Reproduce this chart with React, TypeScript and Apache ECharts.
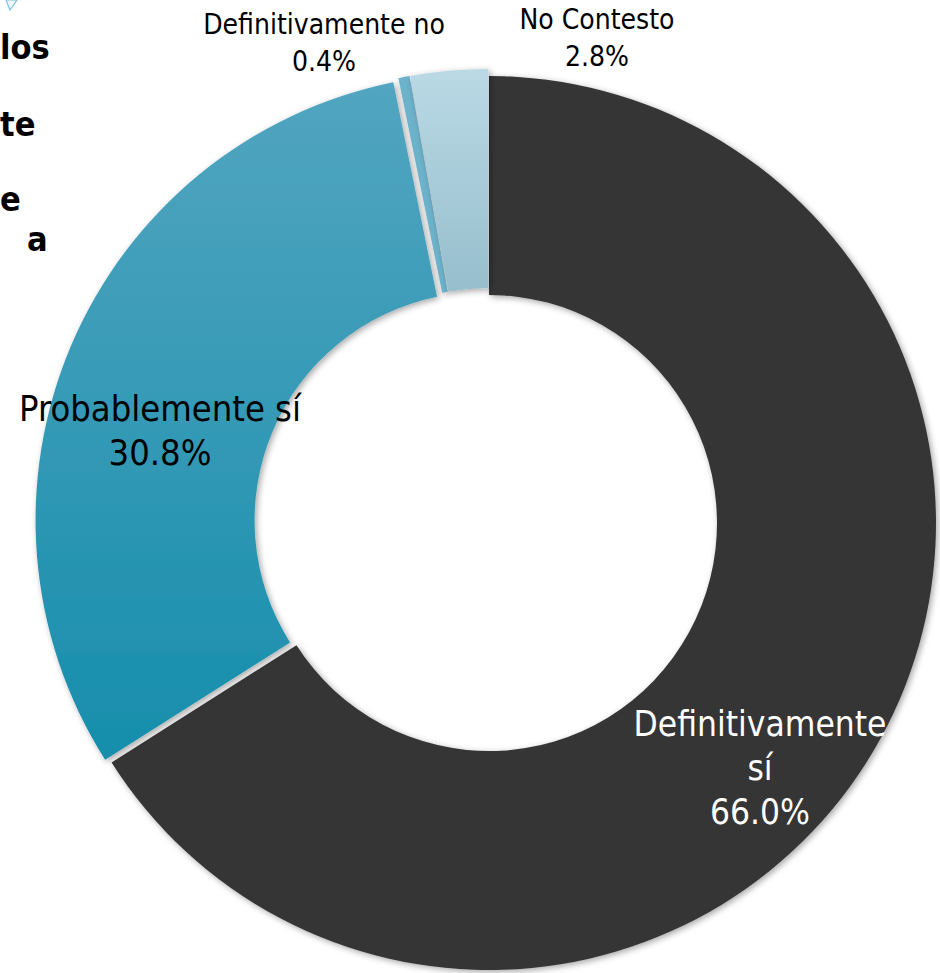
import React, { useEffect, useRef } from "react";
import * as echarts from "echarts";

const categories = ["Definitivamente sí", "Probablemente sí", "Definitivamente no", "No Contesto"];
const values = [66.0, 30.8, 0.4, 2.8];
const labelTexts = ["Definitivamente\nsí\n66.0%", "Probablemente sí\n30.8%", "Definitivamente no\n0.4%", "No Contesto\n2.8%"];
const sideTexts = ["los", "te", "e", "a"];

const FONT = "'DejaVu Sans Condensed', 'DejaVu Sans', sans-serif";

export default function App() {
  const ref = useRef<HTMLDivElement>(null);
  useEffect(() => {
    document.body.style.margin = "0";
    const chart = echarts.init(ref.current!, null, { renderer: "svg" });
    const colors = [
      "#363636",
      new echarts.graphic.LinearGradient(0, 0, 0, 1, [
        { offset: 0, color: "#52a5c0" },
        { offset: 1, color: "#168eac" },
      ]),
      "#6cb2ca",
      new echarts.graphic.LinearGradient(0, 0, 0, 1, [
        { offset: 0, color: "#bad9e5" },
        { offset: 1, color: "#96becd" },
      ]),
    ];
    const labelStyles = [
      { color: "#ffffff", fontSize: 35, lineHeight: 44 },
      { color: "#000000", fontSize: 36, lineHeight: 44 },
      { color: "#000000", fontSize: 28, lineHeight: 37 },
      { color: "#000000", fontSize: 28, lineHeight: 37 },
    ];
    const labelPos = [
      [760, 768],
      [160, 430],
      [324, 43],
      [597, 38],
    ];
    const exploded = [false, true, true, true];
    const sidePos = [
      [0, 47],
      [0, 124],
      [0, 199],
      [27, 239],
    ];
    const center = [489, 523];
    const radius = [228, 447];
    chart.setOption({
      animation: false,
      backgroundColor: "#ffffff",
      graphic: [
        {
          type: "polygon",
          shape: { points: [[6, 0], [17, 0], [10, 10]] },
          style: { stroke: "#7cc3dc", lineWidth: 1.2, fill: "#eef8fb" },
        },
        ...sideTexts.map((t, i) => ({
          type: "text",
          x: sidePos[i][0],
          y: sidePos[i][1],
          style: {
            text: t,
            fill: "#000000",
            font: `bold 34px ${FONT}`,
            textVerticalAlign: "middle",
          },
        })),
      ],
      series: [
        {
          type: "pie",
          center,
          radius,
          startAngle: 90,
          clockwise: true,
          selectedMode: "multiple",
          selectedOffset: 7,
          label: { show: false },
          labelLine: { show: false },
          emphasis: { disabled: true },
          itemStyle: {
            shadowBlur: 6,
            shadowColor: "rgba(0,0,0,0.35)",
            shadowOffsetX: 2,
            shadowOffsetY: 2,
          },
          data: categories.map((c, i) => ({
            name: c,
            value: values[i],
            selected: exploded[i],
            itemStyle: { color: colors[i] },
          })),
        },
        {
          type: "pie",
          center,
          radius,
          startAngle: 90,
          clockwise: true,
          silent: true,
          selectedMode: false,
          avoidLabelOverlap: false,
          labelLine: { show: false },
          emphasis: { disabled: true },
          itemStyle: { color: "rgba(0,0,0,0)" },
          label: {
            show: true,
            fontFamily: FONT,
            align: "center",
          },
          labelLayout: (params: any) => ({
            x: labelPos[params.dataIndex][0],
            y: labelPos[params.dataIndex][1],
            align: "center",
            verticalAlign: "middle",
          }),
          data: categories.map((c, i) => ({
            name: c,
            value: values[i],
            label: {
              formatter: labelTexts[i],
              ...labelStyles[i],
            },
          })),
        },
      ],
    });
    return () => chart.dispose();
  }, []);
  return <div ref={ref} style={{ position: "absolute", left: 0, top: 0, width: 940, height: 973 }} />;
}
